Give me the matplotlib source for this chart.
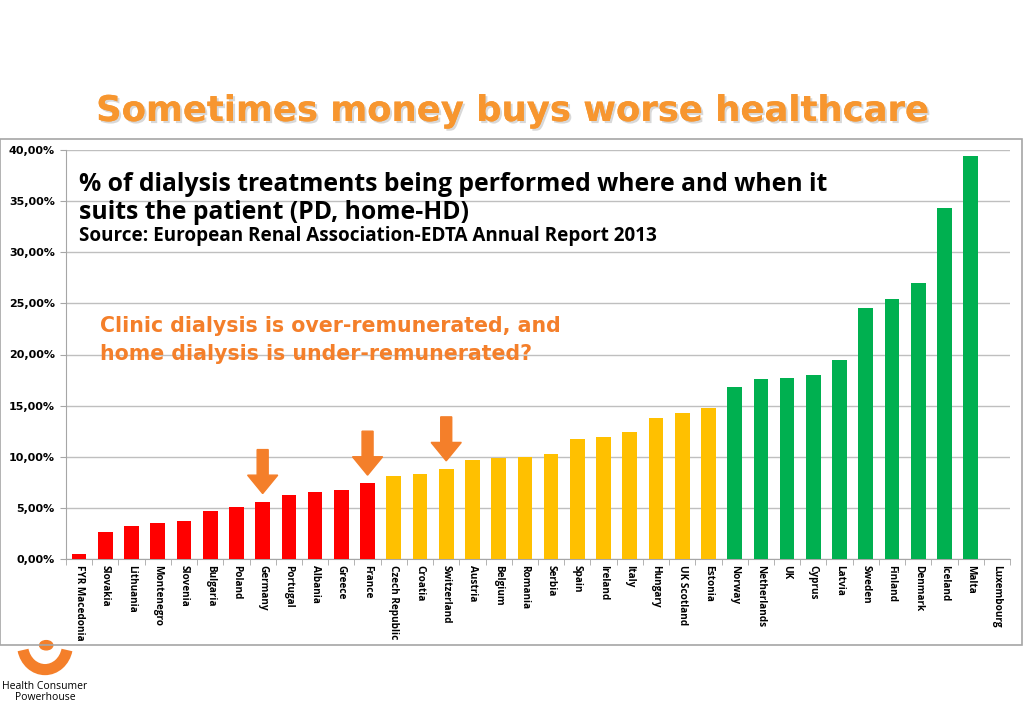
import numpy as np
import matplotlib
matplotlib.use("Agg")
from matplotlib import pyplot as plt
from matplotlib import patheffects as pe
from matplotlib.patches import Rectangle, Arc, Circle

countries = ["FYR Macedonia", "Slovakia", "Lithuania", "Montenegro", "Slovenia",
             "Bulgaria", "Poland", "Germany", "Portugal", "Albania", "Greece",
             "France", "Czech Republic", "Croatia", "Switzerland", "Austria",
             "Belgium", "Romania", "Serbia", "Spain", "Ireland", "Italy",
             "Hungary", "UK Scotland", "Estonia", "Norway", "Netherlands", "UK",
             "Cyprus", "Latvia", "Sweden", "Finland", "Denmark", "Iceland",
             "Malta", "Luxembourg"]
values = [0.5, 2.6, 3.2, 3.5, 3.7, 4.7, 5.1, 5.6, 6.3, 6.6, 6.7, 7.4,
          8.1, 8.3, 8.8, 9.7, 9.9, 10.0, 10.3, 11.7, 11.9, 12.4, 13.8, 14.3, 14.8,
          16.8, 17.6, 17.7, 18.0, 19.5, 24.5, 25.4, 27.0, 34.3, 39.4, 0.0]
groups = ["red"] * 12 + ["yellow"] * 13 + ["green"] * 11
arrow_countries = ["Germany", "France", "Switzerland"]

palette = {"red": "#FF0000", "yellow": "#FFC000", "green": "#00B050"}
orange = "#F47F2A"

fig = plt.figure(figsize=(10.24, 7.09), dpi=100)
fig.patch.set_facecolor("white")

# grey frame around the chart
fig.patches.append(Rectangle((0.0, 1 - 645 / 709), 1022 / 1024, (645 - 139) / 709,
                             transform=fig.transFigure, fill=False,
                             edgecolor="#A6A6A6", linewidth=1.2))

ax = fig.add_axes([66 / 1024, 1 - 559 / 709, 944 / 1024, 409 / 709])
x = np.arange(len(countries))
ax.bar(x, values, width=0.56, color=[palette[g] for g in groups], zorder=3)

ax.set_xlim(-0.5, len(countries) - 0.5)
ax.set_ylim(0, 40)
ax.set_yticks(np.arange(0, 41, 5))
ax.set_yticklabels([f"{v:.2f}".replace(".", ",") + "%" for v in np.arange(0, 41, 5)],
                   fontsize=8, fontweight="bold")
ax.yaxis.grid(True, color="#BFBFBF", linewidth=1, zorder=0)
ax.set_axisbelow(True)
ax.set_xticks(x)
ax.set_xticklabels(countries, rotation=270, fontsize=7.2, family="Open Sans",
                   fontweight="bold", va="top", ha="center")
ax.tick_params(axis="x", length=0, pad=4)
ax.set_xticks(np.arange(-0.5, len(countries), 1), minor=True)
ax.tick_params(axis="x", which="minor", length=4, color="#A6A6A6")
ax.tick_params(axis="y", length=4, color="#A6A6A6", pad=4)
for side in ["top", "right"]:
    ax.spines[side].set_visible(False)
for side in ["left", "bottom"]:
    ax.spines[side].set_color("#A6A6A6")

# orange arrows pointing at selected bars
for name in arrow_countries:
    i = countries.index(name)
    top = values[i] + 0.8 + 4.3
    ax.arrow(i, top, 0, -4.3, width=0.42, head_width=1.15, head_length=1.8,
             length_includes_head=True, color=orange, zorder=4)

ax.text(0.0, 36.6, "% of dialysis treatments being performed where and when it",
        fontsize=17.8, fontweight="bold", family="Open Sans", va="center")
ax.text(0.0, 33.9, "suits the patient (PD, home-HD)",
        fontsize=17.8, fontweight="bold", family="Open Sans", va="center")
ax.text(0.0, 31.6, "Source: European Renal Association-EDTA Annual Report 2013",
        fontsize=13.6, fontweight="bold", family="Open Sans", va="center")
ax.text(0.8, 22.8, "Clinic dialysis is over-remunerated, and",
        fontsize=14.8, fontweight="bold", color=orange, va="center")
ax.text(0.8, 20.05, "home dialysis is under-remunerated?",
        fontsize=14.8, fontweight="bold", color=orange, va="center")

# slide title with a soft shadow
fig.text(512 / 1024, 1 - 111 / 709, "Sometimes money buys worse healthcare",
         fontsize=25.5, fontweight="bold", color="#F7962F", ha="center", va="center",
         path_effects=[pe.withSimplePatchShadow(offset=(1.5, -1.5),
                                                shadow_rgbFace="#C8C8C8", alpha=0.7),
                       pe.Normal()])

# logo
lax = fig.add_axes([15 / 1024, 1 - 678 / 709, 60 / 1024, 42 / 709])
lax.set_xlim(0, 1)
lax.set_ylim(0, 1)
lax.axis("off")
lax.add_patch(Arc((0.5, 0.8), 0.75, 1.2, theta1=200, theta2=340,
                  color=orange, linewidth=8))
lax.add_patch(Circle((0.52, 0.78), 0.11, color=orange))
fig.text(45 / 1024, 1 - 692 / 709, "Health Consumer\nPowerhouse", fontsize=7.5,
         family="Open Sans", ha="center", va="center", linespacing=1.1)

fig.savefig("out.png", dpi=100)
